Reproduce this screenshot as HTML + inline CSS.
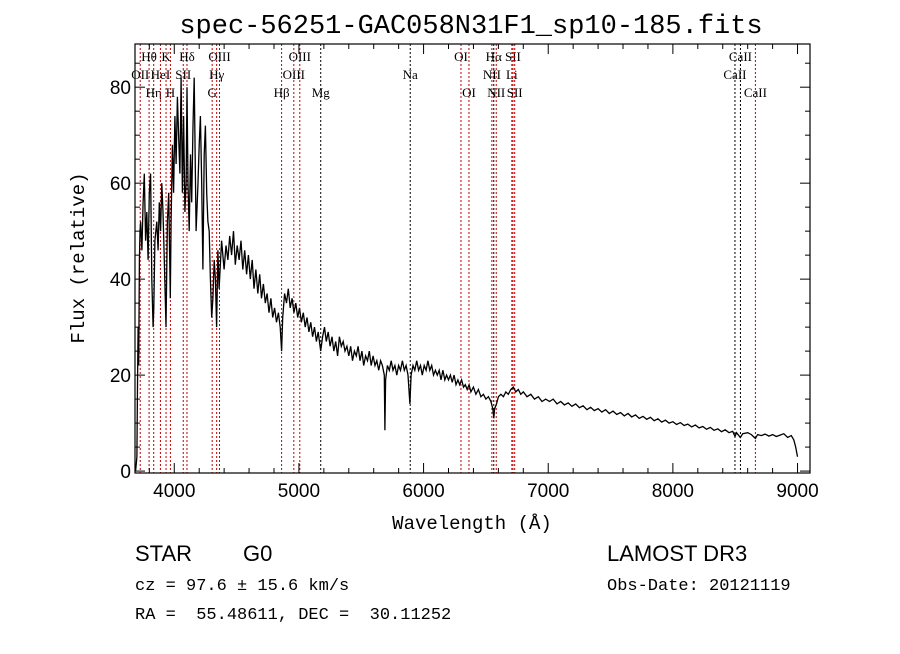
<!DOCTYPE html>
<html><head><meta charset="utf-8"><title>spec-56251-GAC058N31F1_sp10-185</title>
<style>
html,body{margin:0;padding:0;background:#fff;}
body{width:900px;height:649px;overflow:hidden;}
svg text{font-family:"Liberation Serif",serif;fill:#000;}
</style></head>
<body>
<svg id="chart" width="900" height="649" viewBox="0 0 900 649" xmlns="http://www.w3.org/2000/svg">
<rect width="900" height="649" fill="#fff"/>
<text x="471" y="33" text-anchor="middle" style="font-family:'Liberation Mono',monospace" font-size="27">spec-56251-GAC058N31F1_sp10-185.fits</text>
<g id="lines"></g>
<g id="spec"></g>
<rect x="135" y="44" width="675" height="429" fill="none" stroke="#000" stroke-width="1.2"/>
<g id="axes"></g>
<text x="472" y="529" text-anchor="middle" style="font-family:'Liberation Mono',monospace" font-size="19">Wavelength (Å)</text>
<text transform="translate(84,258) rotate(-90)" text-anchor="middle" style="font-family:'Liberation Mono',monospace" font-size="19">Flux (relative)</text>
<text x="135" y="561" style="font-family:'Liberation Sans',sans-serif" font-size="22">STAR</text>
<text x="243" y="561" style="font-family:'Liberation Sans',sans-serif" font-size="22">G0</text>
<text x="135" y="590" style="font-family:'Liberation Mono',monospace" font-size="17">cz = 97.6 ± 15.6 km/s</text>
<text x="135" y="619" style="font-family:'Liberation Mono',monospace" font-size="17" xml:space="preserve">RA =  55.48611, DEC =  30.11252</text>
<text x="607" y="561" style="font-family:'Liberation Sans',sans-serif" font-size="22">LAMOST DR3</text>
<text x="607" y="590" style="font-family:'Liberation Mono',monospace" font-size="17">Obs-Date: 20121119</text>
</svg>
<script>
const xTicks=[4000,5000,6000,7000,8000,9000];
const yTicks=[0,20,40,60,80];
const lineWl=[3727,3798,3835,3889,3934,3969,4072,4102,4304,4340,4363,4861,4959,5007,5175,5893,6300,6364,6548,6563,6583,6708,6717,6731,8498,8542,8662];
const lineName=["OII","Hθ","Hη","HeI","K","H","SII","Hδ","G","Hγ","OIII","Hβ","OIII","OIII","Mg","Na","OI","OI","NII","Hα","NII","Li","SII","SII","CaII","CaII","CaII"];
const lineRow=[1,0,2,1,0,2,1,0,2,1,0,2,1,0,2,1,0,2,1,0,2,1,0,2,1,0,2];
const lineRed=[1,1,1,1,1,1,1,1,1,1,1,1,1,1,0,0,1,1,1,0,1,1,1,1,0,0,1];
const specWl=[
3690,3700,3705,3710,3715,3720,3725,3730,3740,3750,
3760,3770,3780,3790,3800,3810,3820,3830,3836,3845,
3860,3870,3880,3890,3900,3910,3920,3934,3945,3955,
3968,3975,3985,3995,4005,4015,4025,4035,4045,4055,
4065,4075,4085,4095,4102,4110,4120,4130,4140,4150,
4160,4175,4190,4200,4210,4220,4230,4240,4250,4260,
4270,4280,4290,4300,4310,4320,4330,4340,4350,4360,
4380,4400,4415,4430,4445,4460,4475,4490,4505,4520,
4535,4550,4565,4580,4595,4610,4625,4640,4655,4670,
4685,4700,4715,4730,4745,4760,4775,4790,4805,4820,
4835,4850,4861,4870,4885,4900,4915,4930,4945,4960,
4975,4990,5005,5020,5035,5050,5065,5080,5095,5110,
5125,5140,5155,5175,5190,5205,5220,5235,5250,5265,
5280,5295,5310,5325,5340,5355,5370,5385,5400,5415,
5430,5445,5460,5475,5490,5505,5520,5535,5550,5565,
5580,5595,5610,5625,5640,5655,5670,5685,5690,5695,
5710,5725,5740,5755,5770,5785,5800,5815,5830,5845,
5860,5875,5890,5900,5915,5930,5945,5960,5975,5990,
6005,6020,6035,6050,6065,6080,6095,6110,6125,6140,
6155,6170,6185,6200,6215,6230,6245,6260,6275,6290,
6305,6320,6335,6350,6365,6380,6400,6420,6440,6460,
6480,6500,6520,6540,6555,6563,6570,6585,6600,6620,
6640,6660,6680,6700,6720,6740,6760,6780,6800,6830,
6860,6890,6920,6950,6980,7010,7040,7070,7100,7130,
7160,7190,7220,7250,7280,7310,7340,7370,7400,7430,
7460,7490,7520,7550,7580,7610,7640,7670,7700,7730,
7760,7790,7820,7850,7880,7910,7940,7970,8000,8030,
8060,8090,8120,8150,8180,8210,8240,8270,8300,8330,
8360,8390,8420,8450,8480,8498,8510,8542,8560,8600,
8630,8662,8680,8710,8740,8770,8800,8830,8860,8890,
8920,8950,8970,8985,9000];
const specFx=[
0,3,18,30,22,44,50,52,46,56,
62,48,54,44,58,62,40,30,34,48,
52,46,56,50,60,54,44,30,52,58,
36,52,68,58,74,64,78,70,62,82,
58,74,54,60,80,60,50,66,56,72,
82,50,60,68,74,60,42,66,72,58,
52,50,40,32,36,44,40,30,46,38,
48,42,47,44,49,45,50,43,47,44,
48,42,46,41,45,40,44,38,42,37,
41,36,39,35,37,33,36,32,34,31,
33,30,25,32,37,35,38,34,36,33,
35,32,34,31,33,30,32,29,31,28,
30,27,29,25,28,30,27,29,26,28,
25,27,24,28,26,27,25,26,24,26,
23,25,24,26,23,25,22,24,23,25,
22,24,22,23,21,23,22,20,8.5,19,
22,21,23,21,22,20,22,21,23,21,
22,20,14,20,22,21,23,21,22,20,
22,21,23,21,22,20,21,20,21,19,
21,19,20,19,20,18.5,20,18,19,18,
19,17.5,18,17,18,16.5,17.5,16,17,15.5,
16,15,15.5,14.5,13,11,13,14,15.5,16,
15.5,16.5,16,17,17.5,16.5,17,16,16.5,15.5,
16,15,15.5,14.5,15,14.5,15,14,14.5,13.8,
14.2,13.5,14,13.2,13.6,12.8,13.3,12.6,13,12.3,
12.8,12,12.5,11.8,12.2,11.5,12,11.3,11.7,11,
11.4,10.8,11.2,10.5,10.9,10.2,10.6,10,10.3,9.7,
10.1,9.5,9.8,9.2,9.6,9,9.3,8.7,9.1,8.5,
8.8,8.2,8.6,8,8.3,7.2,8,7,7.8,8,
7.6,6.8,7.6,7.4,7.7,7.3,7.6,7.2,7.5,7.8,
7,7.4,6.5,5,3];
const X0=135,X1=810,Y0=44,Y1=473,WMIN=3685,WMAX=9100,FMIN=-0.4,FMAX=89;
const xs=w=>X0+(w-WMIN)/(WMAX-WMIN)*(X1-X0);
const ys=f=>Y1-(f-FMIN)/(FMAX-FMIN)*(Y1-Y0);
const NS="http://www.w3.org/2000/svg";
function mk(tag,parent,attrs){const e=document.createElementNS(NS,tag);for(const k in attrs)e.setAttribute(k,attrs[k]);parent.appendChild(e);return e;}
const gl=document.getElementById('lines');
lineWl.forEach((w,i)=>{
  const x=xs(w);
  const ln=mk('line',gl,{x1:x,x2:x,y1:Y0,y2:Y1,stroke:lineRed[i]?'#c00000':'#000','stroke-width':1,'stroke-dasharray':'2,2'});
  
  
  const t=mk('text',gl,{x:x,y:61+lineRow[i]*18,'text-anchor':'middle','font-size':13});
  t.textContent=lineName[i];
  
  
});
const gs=document.getElementById('spec');
const n=Math.min(specWl.length,specFx.length);
let d='';
for(let i=0;i<n;i++){d+=(i?'L':'M')+xs(specWl[i]).toFixed(1)+','+ys(specFx[i]).toFixed(1);}
const p=mk('path',gs,{d:d,fill:'none',stroke:'#000','stroke-width':1.3});


const ga=document.getElementById('axes');
for(let w=3800;w<=9100;w+=200){
  const x=xs(w),maj=w%1000===0,L=maj?10:5;
  mk('line',ga,{x1:x,x2:x,y1:Y1,y2:Y1-L,stroke:'#000'});
  mk('line',ga,{x1:x,x2:x,y1:Y0,y2:Y0+L,stroke:'#000'});
}
xTicks.forEach(w=>{
  const t=mk('text',ga,{x:xs(w),y:Y1+24,'text-anchor':'middle','font-size':19,style:"font-family:'Liberation Sans',sans-serif"});
  t.textContent=w;
  
  
});
for(let f=0;f<=85;f+=5){
  const y=ys(f),maj=f%20===0,L=maj?10:5;
  mk('line',ga,{x1:X0,x2:X0+L,y1:y,y2:y,stroke:'#000'});
  mk('line',ga,{x1:X1,x2:X1-L,y1:y,y2:y,stroke:'#000'});
}
yTicks.forEach(f=>{
  const t=mk('text',ga,{x:X0-4,y:ys(f)+7,'text-anchor':'end','font-size':19,style:"font-family:'Liberation Sans',sans-serif"});
  t.textContent=f;
  
  
});
</script>
</body></html>
